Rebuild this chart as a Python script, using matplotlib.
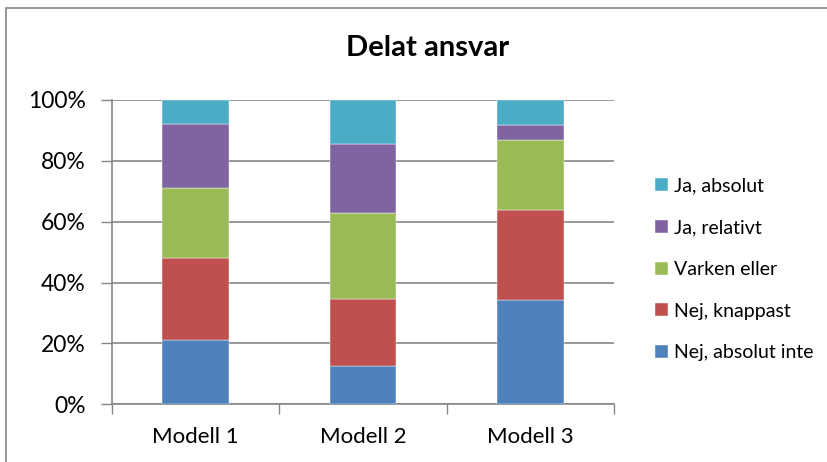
import matplotlib.pyplot as plt
from matplotlib.patches import Rectangle
from matplotlib.ticker import FixedLocator, PercentFormatter

plt.rcParams["font.family"] = ["Lato", "DejaVu Sans"]

categories = ["Modell 1", "Modell 2", "Modell 3"]
series = ["Nej, absolut inte", "Nej, knappast", "Varken eller", "Ja, relativt", "Ja, absolut"]
values = {
    "Nej, absolut inte": [21.1, 12.5, 34.4],
    "Nej, knappast": [27.1, 22.0, 29.6],
    "Varken eller": [23.0, 28.4, 22.9],
    "Ja, relativt": [21.0, 22.5, 4.9],
    "Ja, absolut": [7.8, 14.6, 8.2],
}
colors = {
    "Nej, absolut inte": "#4F81BD",
    "Nej, knappast": "#C0504D",
    "Varken eller": "#9BBB59",
    "Ja, relativt": "#8064A2",
    "Ja, absolut": "#4BACC6",
}
GRID = "#868686"

fig = plt.figure(figsize=(8.28, 4.62), dpi=100)
ax = fig.add_axes([112 / 828, 1 - 404.3 / 462, 502 / 828, 304.3 / 462])

x = list(range(len(categories)))
totals = [sum(values[s][i] for s in series) for i in x]
bottom = [0.0] * len(categories)
handles = []
for s in series:
    pct = [values[s][i] / totals[i] * 100 for i in x]
    h = ax.bar(x, pct, width=0.4, bottom=bottom, color=colors[s], label=s,
               edgecolor="white", linewidth=0.3, zorder=3)
    handles.append(h)
    bottom = [b + p for b, p in zip(bottom, pct)]

ax.set_xlim(-0.5, len(categories) - 0.5)
ax.set_ylim(0, 100)
ax.yaxis.set_major_locator(FixedLocator([0, 20, 40, 60, 80, 100]))
ax.yaxis.set_major_formatter(PercentFormatter(decimals=0))
ax.set_xticks(x)
ax.set_xticklabels(categories)
ax.set_xticks([i - 0.5 for i in range(len(categories) + 1)], minor=True)
ax.tick_params(axis="x", which="major", length=0, pad=16, labelsize=16)
ax.tick_params(axis="x", which="minor", length=7, width=1, color=GRID)
ax.tick_params(axis="y", length=8, width=1, color=GRID, pad=11, labelsize=16.5)
ax.yaxis.grid(True, color=GRID, linewidth=1.2, zorder=0)
ax.set_axisbelow(True)
for side in ["top", "right"]:
    ax.spines[side].set_visible(False)
for side in ["left", "bottom"]:
    ax.spines[side].set_color(GRID)
    ax.spines[side].set_linewidth(1.2)

fig.text(428 / 828, 1 - 48 / 462, "Delat ansvar", ha="center", va="center",
         fontsize=21, fontweight="bold")

leg = fig.legend(handles[::-1], series[::-1], loc="upper left",
                 bbox_to_anchor=(638 / 828, 1 - 160 / 462), frameon=False,
                 fontsize=14, handlelength=0.65, handleheight=0.65,
                 handletextpad=0.3, labelspacing=1.27)

fig.patches.append(Rectangle((6 / 828, -0.05), 1.1, 1 - 8 / 462 + 0.05,
                             transform=fig.transFigure, fill=False,
                             edgecolor=GRID, linewidth=1.2))

fig.savefig("out.png", dpi=100)
